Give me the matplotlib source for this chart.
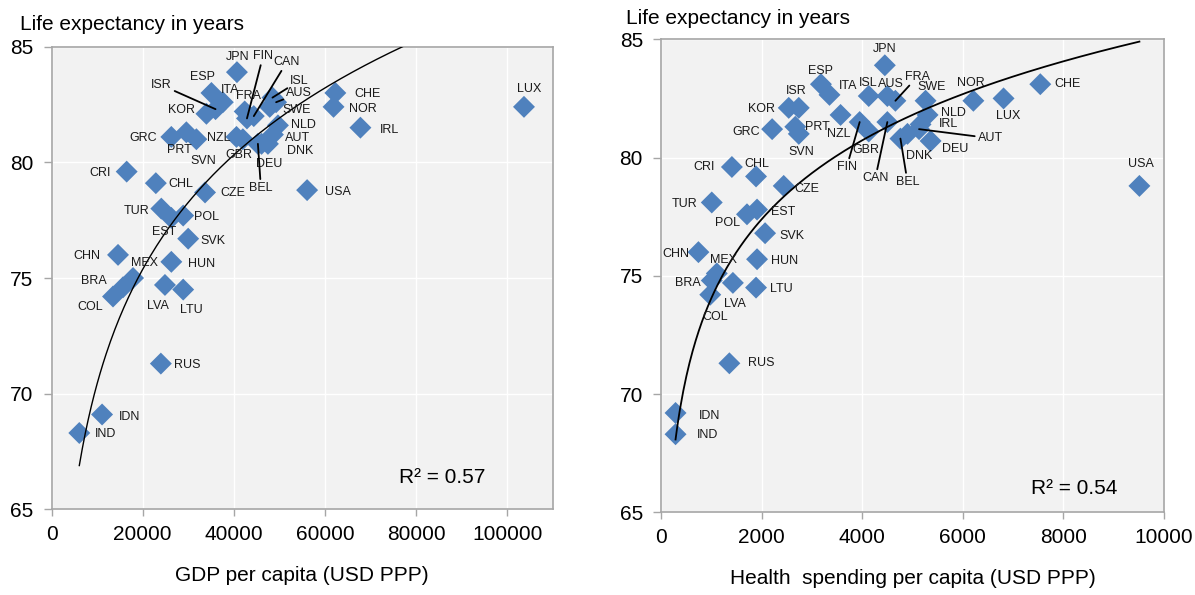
# Life expectancy vs GDP and health spending per capita

import matplotlib.pyplot as plt
import numpy as np

plt.rcParams["font.family"] = ["Liberation Sans", "DejaVu Sans"]

countries = [
    "JPN", "FIN", "CAN", "ISL", "AUS", "ESP", "ITA", "FRA", "ISR", "KOR",
    "SWE", "CHE", "NOR", "IRL", "NLD", "AUT", "DNK", "GRC", "PRT", "SVN",
    "NZL", "GBR", "DEU", "BEL", "CRI", "CHL", "USA", "CZE", "TUR", "POL",
    "EST", "SVK", "CHN", "MEX", "HUN", "BRA", "COL", "LVA", "LTU", "RUS",
    "IDN", "IND", "LUX",
]

# GDP per capita (USD PPP) and life expectancy, left panel
gdp = [
    40700, 42900, 44400, 48500, 49300, 35100, 37600, 42400, 36000, 34000,
    47900, 62300, 61900, 67800, 49700, 48600, 47500, 26300, 29600, 31800,
    40600, 42000, 46100, 45300, 16500, 22900, 56100, 33700, 24100, 28900,
    26300, 30000, 14600, 17900, 26300, 15700, 13500, 24900, 28900, 24000,
    11100, 6100, 103700,
]
le_gdp = [
    83.9, 81.9, 82.0, 82.8, 82.6, 83.0, 82.6, 82.2, 82.3, 82.1,
    82.4, 83.0, 82.4, 81.5, 81.6, 81.2, 80.8, 81.1, 81.3, 81.0,
    81.1, 81.0, 80.8, 80.8, 79.6, 79.1, 78.8, 78.7, 78.0, 77.7,
    77.6, 76.7, 76.0, 75.0, 75.7, 74.6, 74.2, 74.7, 74.5, 71.3,
    69.1, 68.3, 82.4,
]

# Health spending per capita (USD PPP) and life expectancy, right panel
health = [
    4450, 3950, 4500, 4130, 4500, 3180, 3350, 4660, 2740, 2540,
    5260, 7540, 6210, 5160, 5300, 5130, 4900, 2210, 2670, 2740,
    3570, 4130, 5360, 4760, 1410, 1890, 9510, 2440, 1010, 1710,
    1910, 2070, 745, 1110, 1910, 1010, 980, 1430, 1890, 1360,
    290, 290, 6810,
]
le_health = [
    83.9, 81.5, 81.5, 82.6, 82.6, 83.1, 82.65, 82.4, 82.1, 82.1,
    82.4, 83.1, 82.4, 81.4, 81.8, 81.2, 81.0, 81.2, 81.3, 81.0,
    81.8, 81.1, 80.7, 80.8, 79.6, 79.2, 78.8, 78.8, 78.1, 77.6,
    77.8, 76.8, 76.0, 75.1, 75.7, 74.8, 74.2, 74.7, 74.5, 71.3,
    69.2, 68.3, 82.5,
]

# Logarithmic trend lines (y = a + b*ln(x)) as drawn in the chart
trend_gdp = (4.66, 7.14)
trend_health = (40.75, 4.82)

# Label offsets in pixels (right, up); leader line drawn when flagged
offs_gdp = {
    "JPN": (1, 15), "FIN": (16, 62), "CAN": (33, 54), "ISL": (27, 17),
    "AUS": (23, 9), "ESP": (-9, 16), "ITA": (7, 12), "FRA": (4, 15),
    "ISR": (-54, 24), "KOR": (-25, 4), "SWE": (27, -3), "CHE": (32, -1),
    "NOR": (29, -2), "IRL": (29, -2), "NLD": (25, 0), "AUT": (25, -3),
    "DNK": (32, -7), "GRC": (-28, -1), "PRT": (-7, -18), "SVN": (7, -22),
    "NZL": (-18, -1), "GBR": (-4, -16), "DEU": (8, -20), "BEL": (3, -44),
    "CRI": (-27, -1), "CHL": (25, -1), "USA": (31, -2), "CZE": (28, -1),
    "TUR": (-25, -2), "POL": (23, -1), "EST": (-7, -14), "SVK": (25, -2),
    "CHN": (-31, -1), "MEX": (11, 15), "HUN": (30, -2), "BRA": (-29, 6),
    "COL": (-23, -10), "LVA": (-7, -21), "LTU": (8, -20), "RUS": (26, -1),
    "IDN": (27, -3), "IND": (26, -1), "LUX": (5, 18),
}
lead_gdp = ["FIN", "CAN", "ISL", "AUS", "ISR", "BEL"]

offs_health = {
    "JPN": (0, 16), "FIN": (-13, -45), "CAN": (-12, -56), "ISL": (-1, 13),
    "AUS": (4, 12), "ESP": (0, 13), "ITA": (19, 9), "FRA": (22, 24),
    "ISR": (-3, 17), "KOR": (-27, -1), "SWE": (6, 14), "CHE": (27, 0),
    "NOR": (-3, 18), "IRL": (28, 0), "NLD": (26, 2), "AUT": (71, -9),
    "DNK": (12, -22), "GRC": (-26, -3), "PRT": (22, 0), "SVN": (2, -18),
    "NZL": (-2, -19), "GBR": (-3, -18), "DEU": (25, -8), "BEL": (7, -43),
    "CRI": (-28, 0), "CHL": (1, 12), "USA": (2, 22), "CZE": (23, -3),
    "TUR": (-27, -2), "POL": (-19, -9), "EST": (26, -2), "SVK": (27, -3),
    "CHN": (-23, -2), "MEX": (7, 13), "HUN": (28, -2), "BRA": (-24, -2),
    "COL": (5, -22), "LVA": (2, -21), "LTU": (25, -1), "RUS": (32, 0),
    "IDN": (34, -3), "IND": (32, -1), "LUX": (5, -18),
}
lead_health = ["FRA", "FIN", "CAN", "BEL", "AUT"]

r2_text = ["R² = 0.57", "R² = 0.54"]
xlabels = ["GDP per capita (USD PPP)", "Health  spending per capita (USD PPP)"]

blue = "#4F81BD"
frame = "#A6A6A6"

fig = plt.figure(figsize=(11.95, 5.95), dpi=100)
ax1 = fig.add_axes([0.0431, 0.1440, 0.4194, 0.7775])
ax2 = fig.add_axes([0.5531, 0.1390, 0.4210, 0.7950])

panels = [
    (ax1, gdp, le_gdp, trend_gdp, offs_gdp, lead_gdp, (0, 110000), np.arange(0, 100001, 20000)),
    (ax2, health, le_health, trend_health, offs_health, lead_health, (0, 10000), np.arange(0, 10001, 2000)),
]

for i, (ax, xv, yv, trend, offs, leads, xlim, xticks) in enumerate(panels):
    xv = np.array(xv, dtype=float)
    yv = np.array(yv, dtype=float)

    ax.set_facecolor("#F2F2F2")
    ax.grid(True, color="white", lw=1.0)
    ax.set_axisbelow(True)

    ax.scatter(xv, yv, marker="D", s=125, color=blue, edgecolors="none", zorder=3)

    # Logarithmic trend line over the data range
    a, b = trend
    xx = np.linspace(xv.min(), xv.max(), 300)
    ax.plot(xx, a + b * np.log(xx), color="black", lw=1.0 if i == 0 else 1.3, zorder=4)

    for name, x, y in zip(countries, xv, yv):
        dx, dy = offs[name]
        arrow = None
        if name in leads:
            arrow = dict(arrowstyle="-", color="black", lw=1.3, shrinkA=0, shrinkB=0)
        ax.annotate(name, (x, y), xytext=(dx, dy), textcoords="offset pixels",
                    ha="center", va="center", fontsize=9, color="#1a1a1a",
                    arrowprops=arrow, zorder=5, annotation_clip=False)

    ax.set_xlim(*xlim)
    ax.set_ylim(65, 85)
    ax.set_xticks(xticks)
    ax.set_yticks([65, 70, 75, 80, 85])
    ax.tick_params(axis="x", length=5, width=1, color=frame, pad=6, labelsize=15)
    ax.tick_params(axis="y", length=6, width=1, color=frame, pad=7, labelsize=15)
    for sp in ax.spines.values():
        sp.set_color(frame)
        sp.set_linewidth(1.2)
    ax.set_xlabel(xlabels[i], fontsize=15, labelpad=16)

ax1.text(0.780, 0.068, r2_text[0], transform=ax1.transAxes, ha="center", va="center", fontsize=15)
ax2.text(0.821, 0.051, r2_text[1], transform=ax2.transAxes, ha="center", va="center", fontsize=15)

fig.text(20 / 1195, 1 - 30 / 595, "Life expectancy in years", fontsize=15, va="baseline")
fig.text(626 / 1195, 1 - 24 / 595, "Life expectancy in years", fontsize=15, va="baseline")

fig.savefig("out.png", dpi=100)
